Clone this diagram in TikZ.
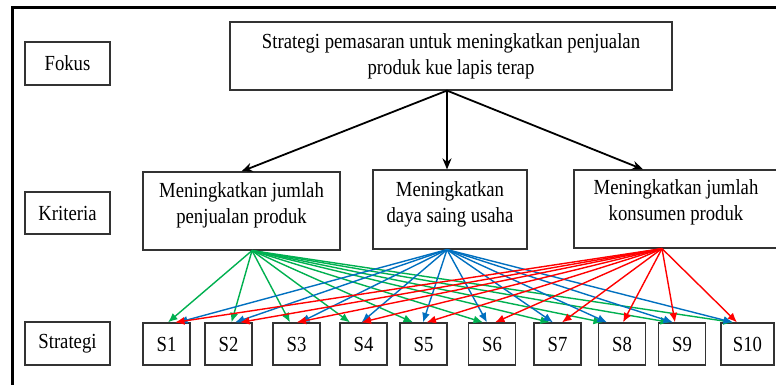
\documentclass[tikz,border=0pt]{standalone}
\usepackage{fontspec}
\setmainfont[FakeStretch=0.87]{Liberation Serif}
\usetikzlibrary{arrows.meta}
\definecolor{cgreen}{RGB}{0,176,80}
\definecolor{cblue}{RGB}{0,112,192}
\definecolor{cred}{RGB}{255,0,0}
\definecolor{boxc}{RGB}{51,51,51}
\begin{document}
\begin{tikzpicture}[x=1pt,y=-1pt,
  box/.style={draw=boxc, line width=1.2pt, inner sep=0pt, font=\fontsize{21.5}{26}\selectfont, align=center},
  sbox/.style={box, minimum width=47pt, minimum height=42pt},
  txt/.style={inner sep=0pt, font=\fontsize{21.5}{26}\selectfont, align=center},
  blk/.style={black, line width=1.8pt, -{Stealth[length=11pt,width=9pt]}},
  garr/.style={cgreen, line width=1.4pt, -{Latex[length=9.5pt,width=8pt]}},
  barr/.style={cblue, line width=1.4pt, -{Latex[length=9.5pt,width=8pt]}},
  rarr/.style={cred, line width=1.4pt, -{Latex[length=9.5pt,width=8pt]}}
]
\useasboundingbox (0,0) rectangle (776,385);
\clip (0,0) rectangle (776,385);
\fill[white] (0,0) rectangle (776,385);
\draw[line width=3.2pt, line join=miter] (12.7,386) -- (12.7,7.5) -- (777,7.5);

% left column
\node[box, minimum width=85pt, minimum height=43pt] (fokus) at (67.5,63.5) {Fokus};
\node[box, minimum width=85pt, minimum height=42pt] (kriteria) at (67.5,213) {Kriteria};
\node[box, minimum width=85pt, minimum height=43pt] (strategi) at (67.5,343.5) {Strategi};

% goal
\node[box, minimum width=442pt, minimum height=68pt] (top) at (451,56)
  {Strategi pemasaran untuk meningkatkan penjualan\\produk kue lapis terap};

% criteria
\node[box, minimum width=197pt, minimum height=78pt] (k1) at (241.5,211) {};
\node[txt] (k1t) at (241.5,205) {Meningkatkan jumlah\\penjualan produk};
\node[box, minimum width=154pt, minimum height=79pt] (k2) at (450,209.5) {};
\node[txt] (k2t) at (450,204.5) {Meningkatkan\\daya saing usaha};
\node[box, minimum width=204pt, minimum height=78pt] (k3) at (676,209) {};
\node[txt] (k3t) at (676,202.5) {Meningkatkan jumlah\\konsumen produk};

% strategies
\node[sbox] (s1) at (166.5,344) {S1};
\node[sbox] (s2) at (228.5,344) {S2};
\node[sbox] (s3) at (296.5,344) {S3};
\node[sbox] (s4) at (363.5,344) {S4};
\node[sbox] (s5) at (423.5,344) {S5};
\node[sbox] (s6) at (492,344) {S6};
\node[sbox] (s7) at (557.5,344) {S7};
\node[sbox] (s8) at (622,344) {S8};
\node[sbox] (s9) at (682,344) {S9};
\node[sbox, minimum width=53pt] (s10) at (747.5,344) {S10};

% black arrows
\draw[blk] ([xshift=-4pt]top.south) -- (k1.north);
\draw[blk] ([xshift=-4pt]top.south) -- ([xshift=-3pt]k2.north);
\draw[blk] ([xshift=-4pt]top.south) -- ([xshift=-33pt]k3.north);

% coloured arrows
\foreach \s/\g in {s1/1.5, s2/3, s3/-6.5, s4/-13.5, s5/-10.5, s6/-9, s7/-7.5, s8/-19, s9/-12, s10/-14.5}
  \draw[garr] ([xshift=10.5pt]k1.south) -- ([xshift=\g pt]\s.north);
\foreach \s/\b in {s1/11.5, s2/6.5, s3/3.5, s4/-2, s5/-0.5, s6/-5, s7/-4.5, s8/-15, s9/-9, s10/-14.5}
  \draw[barr] ([xshift=-3pt]k2.south) -- ([xshift=\b pt]\s.north);
\foreach \s/\r in {s1/8.5, s2/11.5, s3/0, s4/-2, s5/3, s6/3, s7/4.5, s8/1, s9/-7, s10/-10.5}
  \draw[rarr] ([xshift=-14pt]k3.south) -- ([xshift=\r pt]\s.north);
\end{tikzpicture}
\end{document}
